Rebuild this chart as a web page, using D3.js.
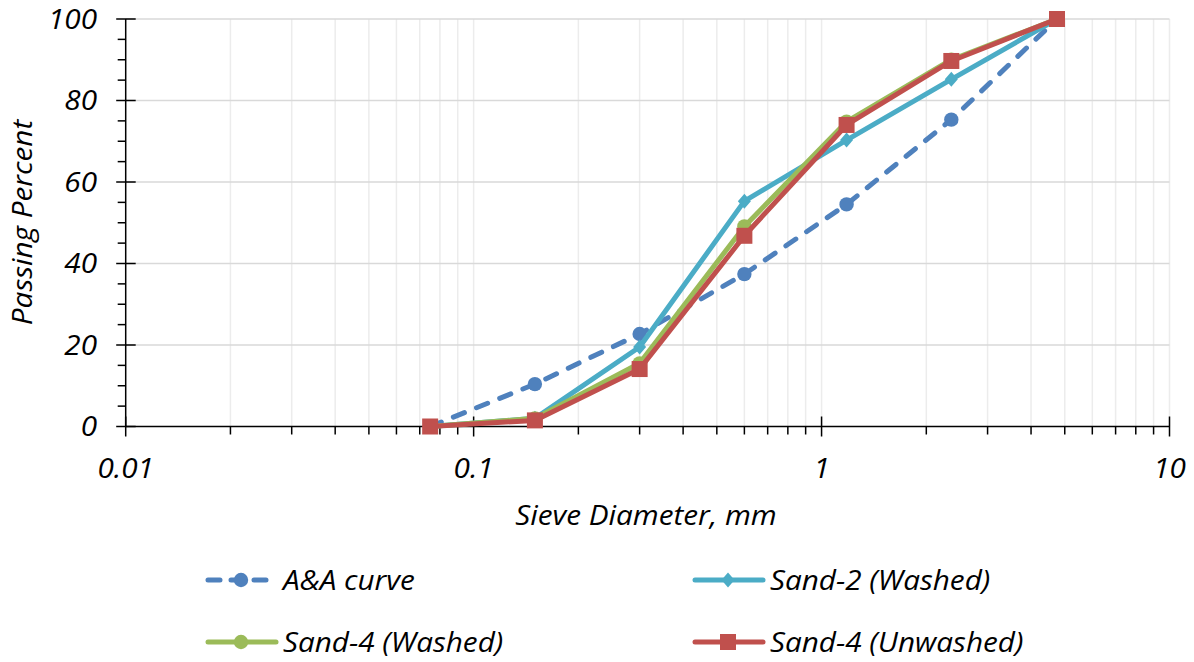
<!DOCTYPE html>
<html><head><meta charset="utf-8">
<script src="https://cdn.jsdelivr.net/npm/d3@7"></script>
<style>body{margin:0;background:#fff}svg{display:block}text{font-family:"Open Sans",sans-serif;font-style:italic;fill:#000}</style>
</head><body>
<svg id="c" width="1194" height="662"></svg>
<script>
const sieves = [0.075, 0.15, 0.3, 0.6, 1.18, 2.36, 4.75];
const aaCurve = [0, 10.4, 22.7, 37.4, 54.5, 75.3, 100];
const sand2Washed = [0, 2, 19.5, 55.3, 70.3, 85.2, 100];
const sand4Washed = [0, 2, 15.5, 49.1, 74.8, 90, 100];
const sand4Unwashed = [0, 1.5, 14.1, 46.8, 74, 89.7, 100];
const seriesNames = ["A&A curve", "Sand-2 (Washed)", "Sand-4 (Washed)", "Sand-4 (Unwashed)"];
const yTicks = [0, 20, 40, 60, 80, 100];
const xTicks = [0.01, 0.1, 1, 10];
const xTickLabels = ["0.01", "0.1", "1", "10"];

const series = [
  {name: seriesNames[0], values: aaCurve, color: "#4F81BD", dash: "12,13", marker: "circle"},
  {name: seriesNames[1], values: sand2Washed, color: "#4BACC6", dash: null, marker: "diamond"},
  {name: seriesNames[2], values: sand4Washed, color: "#9BBB59", dash: null, marker: "circle"},
  {name: seriesNames[3], values: sand4Unwashed, color: "#C0504D", dash: null, marker: "square"}
];

const FS = 27, SX = 1.1;
const svg = d3.select("#c");
const x = d3.scaleLog().domain([0.01, 10]).range([125.7, 1169.5]);
const y = d3.scaleLinear().domain([0, 100]).range([426.5, 19]);

function label(g, tx, ty, txt, anchor, rot) {
  return g.append("text")
    .attr("transform", `translate(${tx},${ty})${rot ? " rotate(" + rot + ")" : ""} scale(${SX},1)`)
    .attr("text-anchor", anchor).attr("font-size", FS).text(txt);
}

// gridlines
const minor = [];
for (let d = 0.01; d < 10; d *= 10) for (let k = 1; k <= 9; k++) minor.push(d * k);
minor.push(10);
svg.append("g").selectAll("line").data(minor.filter(v => v > 0.0100001)).join("line")
  .attr("x1", d => x(d)).attr("x2", d => x(d)).attr("y1", y(0)).attr("y2", y(100))
  .attr("stroke", "#ececec").attr("stroke-width", 1.5);
svg.append("g").selectAll("line").data(yTicks.filter(v => v > 0)).join("line")
  .attr("x1", x(0.01)).attr("x2", x(10)).attr("y1", d => y(d)).attr("y2", d => y(d))
  .attr("stroke", "#d9d9d9").attr("stroke-width", 1.5);

// y axis
const yMinor = d3.range(0, 101, 5);
const ya = svg.append("g");
ya.append("line").attr("x1", x(0.01)).attr("x2", x(0.01)).attr("y1", y(0)).attr("y2", y(100)).attr("stroke", "#000").attr("stroke-width", 1.5);
ya.selectAll("line.t").data(yMinor).join("line").attr("class", "t")
  .attr("x1", d => d % 20 === 0 ? x(0.01) - 9.5 : x(0.01) - 8)
  .attr("x2", d => d % 20 === 0 ? x(0.01) + 10 : x(0.01))
  .attr("y1", d => y(d)).attr("y2", d => y(d)).attr("stroke", "#000").attr("stroke-width", 1.5);
yTicks.forEach(d => label(ya, 97, y(d) + 9.5, d, "end"));

// x axis
const xa = svg.append("g");
xa.append("line").attr("x1", x(0.01)).attr("x2", x(10)).attr("y1", y(0)).attr("y2", y(0)).attr("stroke", "#000").attr("stroke-width", 1.5);
xa.selectAll("line.t").data(minor).join("line").attr("class", "t")
  .attr("x1", d => x(d)).attr("x2", d => x(d))
  .attr("y1", d => xTicks.some(t => Math.abs(t - d) < 1e-9) ? y(0) - 10 : y(0))
  .attr("y2", d => xTicks.some(t => Math.abs(t - d) < 1e-9) ? y(0) + 10 : y(0) + 8)
  .attr("stroke", "#000").attr("stroke-width", 1.5);
xTicks.forEach((d, i) => label(xa, x(d), 477.5, xTickLabels[i], "middle"));

// axis titles
label(svg, 32, 222.5, "Passing Percent", "middle", -90);
label(svg, 646, 525, "Sieve Diameter, mm", "middle");

function drawMarker(g, type, color, cx, cy) {
  if (type === "circle") g.append("circle").attr("cx", cx).attr("cy", cy).attr("r", 7.2).attr("fill", color);
  else if (type === "square") g.append("rect").attr("x", cx - 8).attr("y", cy - 8).attr("width", 16).attr("height", 16).attr("fill", color);
  else g.append("path").attr("d", `M${cx},${cy - 7.5}L${cx + 6.5},${cy}L${cx},${cy + 7.5}L${cx - 6.5},${cy}Z`).attr("fill", color);
}

const line = d3.line().x(d => x(d[0])).y(d => y(d[1]));
series.forEach(s => {
  const pts = sieves.map((v, i) => [v, s.values[i]]);
  const g = svg.append("g");
  g.append("path").attr("d", line(pts)).attr("fill", "none").attr("stroke", s.color)
    .attr("stroke-width", 5).attr("stroke-linejoin", "round")
    .attr("stroke-linecap", s.dash ? "round" : "butt")
    .attr("stroke-dasharray", s.dash);
  pts.forEach(p => drawMarker(g, s.marker, s.color, x(p[0]), y(p[1])));
});

// legend
const legPos = [[208, 580], [695, 580], [208, 642], [695, 642]];
series.forEach((s, i) => {
  const [lx, ly] = legPos[i];
  const g = svg.append("g");
  g.append("line").attr("x1", lx).attr("x2", lx + 68).attr("y1", ly).attr("y2", ly)
    .attr("stroke", s.color).attr("stroke-width", 5)
    .attr("stroke-linecap", "round").attr("stroke-dasharray", s.dash ? "12,11" : null);
  drawMarker(g, s.marker, s.color, lx + 33, ly);
  label(g, lx + 75, ly + 9.5, s.name, "start");
});
</script>
</body></html>
